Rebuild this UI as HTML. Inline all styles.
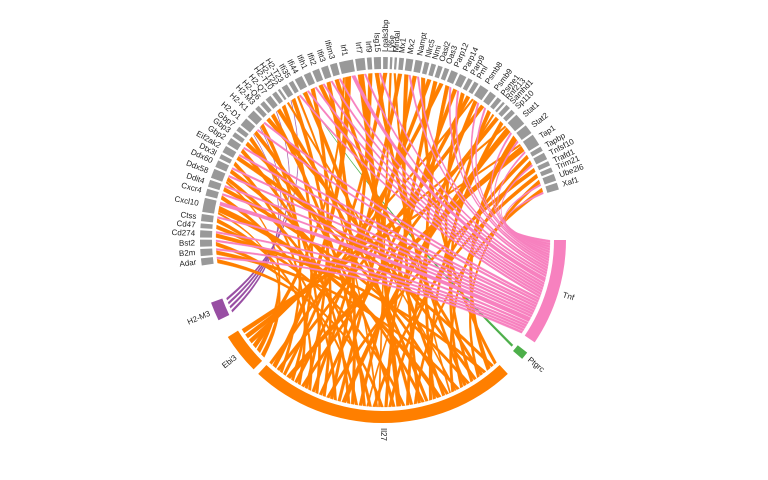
<!DOCTYPE html>
<html><head><meta charset="utf-8"><style>
html,body{margin:0;padding:0;background:#fff;width:768px;height:480px;overflow:hidden}
svg text{font-family:"Liberation Sans",sans-serif;font-size:8px;fill:#222}
</style></head><body>
<svg id="chart" width="768" height="480" viewBox="0 0 768 480"></svg>
<script>
const genes=["Adar","B2m","Bst2","Cd274","Cd47","Ctss","Cxcl10","Cxcr4","Ddit4","Ddx58","Ddx60","Dtx3l","Eif2ak2","Gbp2","Gbp3","Gbp7","H2-D1","H2-K1","H2-M3","H2-Q6","H2-Q7","H2-T10","H2-T22","H2-T23","Ifi35","Ifi44","Ifih1","Ifit2","Ifit3","Ifitm3","Irf1","Irf7","Irf9","Isg15","Lgals3bp","Ly6e","Mndal","Mx1","Mx2","Nampt","Nlrc5","Nmi","Oasl2","Oas3","Parp12","Parp14","Parp9","Pml","Psmb8","Psmb9","Psme1","Rnf213","Samhd1","Sp110","Stat1","Stat2","Tap1","Tapbp","Tnfsf10","Trafd1","Trim21","Ube2l6","Xaf1"];
const il27W=[2,2,2,2,2,2,3,2,2,2,2,2,2,2,2,2,2,2,2,2,2,2,1,2,1,2,2,2,2,2,3,3,2,2,2,1,1,2,2,2,2,2,2,2,2,2,2,2,2,2,2,1,2,2,3,3,3,2,2,2,2,2,2];
const tnfW=[1,1,1,1,0,1,2,1,1,1,1,0,1,1,0,0,1,1,0,0,0,0,0,0,1,1,1,1,1,1,2,1,0,1,0,0,0,0,1,1,0,0,0,0,1,1,0,0,1,1,0,0,0,0,1,1,1,0,1,0,0,1,1];
const il27Order=[40,12,55,3,27,61,18,46,8,33,50,1,22,58,36,14,29,6,44,53,20,10,38,62,25,48,4,31,16,57,42,0,35,24,60,9,51,19,45,2,28,13,54,39,7,32,59,23,47,15,37,5,26,52,11,41,21,56,34,17,49,30,43];
const ebi3Targets=["Cxcl10","Irf1","Stat1","Ddx58","Tap1","Psmb8"];
const h2m3Targets=["H2-D1","H2-K1","H2-Q7","H2-T23"];
const ptgrcTargets=["Ifi44"];
const sources=[["Tnf",0,34,"#F781BF"],["Ptgrc",38,40.5,"#4DAF4A"],["Il27",47,133,"#FF7F00"],["Ebi3",135,148,"#FF7F00"],["H2-M3",154,160,"#984EA3"]];

const svg=document.getElementById('chart');
const NS="http://www.w3.org/2000/svg";
const cx=383,cy=240,R=167,R1=171,R2=183;
function pt(a,r){const t=a*Math.PI/180;return [cx+r*Math.cos(t),cy+r*Math.sin(t)];}
function el(tag,attrs){const e=document.createElementNS(NS,tag);for(const k in attrs)e.setAttribute(k,attrs[k]);svg.appendChild(e);return e;}
function box(a1,a2,fill){const p1=pt(a1,R1),p2=pt(a2,R1),p3=pt(a2,R2),p4=pt(a1,R2);
 return el('path',{d:`M${p1}A${R1} ${R1} 0 0 1 ${p2}L${p3}A${R2} ${R2} 0 0 0 ${p4}Z`,fill:fill});}
function label(a,txt){const p=pt(a,R2+5);const right=Math.cos(a*Math.PI/180)>=-0.01;
 const t=el('text',{x:p[0],y:p[1],'text-anchor':right?'start':'end','dominant-baseline':'middle',transform:`rotate(${right?a:a+180} ${p[0]} ${p[1]})`});t.textContent=txt;return t;}

const ebiW=genes.map(g=>ebi3Targets.includes(g)?1:0);
const purW=genes.map(g=>h2m3Targets.includes(g)?0.6:0);
const grnW=genes.map(g=>ptgrcTargets.includes(g)?0.3:0);
const tot=genes.map((g,i)=>il27W[i]+tnfW[i]+ebiW[i]+purW[i]+grnW[i]);
const gStart=172,gEnd=344,gap=0.7;
const sumT=tot.reduce((a,b)=>a+b,0);
const unit=(gEnd-gStart-gap*(genes.length-1))/sumT;
const gA=[];let a=gStart;
genes.forEach((g,i)=>{gA.push([a,a+tot[i]*unit]);a+=tot[i]*unit+gap;});
const gCur=gA.map(x=>x[0]);

const srcCur={};const srcUnit={};
const srcTot={Tnf:tnfW.reduce((a,b)=>a+b,0),Ptgrc:0.3,Il27:il27W.reduce((a,b)=>a+b,0),Ebi3:ebiW.reduce((a,b)=>a+b,0),"H2-M3":purW.reduce((a,b)=>a+b,0)};
sources.forEach(s=>{srcCur[s[0]]=s[1];srcUnit[s[0]]=(s[2]-s[1])/srcTot[s[0]];});
function ctrl(pA,pB){const mx=(pA[0]+pB[0])/2-cx,my=(pA[1]+pB[1])/2-cy;return [cx+mx*0.5,cy+my*0.5];}
function ribbon(src,col,gi,w,name,fs,fg){
 if(!w)return;
 const s0=srcCur[src],s1=s0+w*srcUnit[src];srcCur[src]=s1;
 const t0=gCur[gi],t1=t0+w*unit;gCur[gi]=t1;
 const sm=(s1-s0)*(1-fs)/2,tm=(t1-t0)*(1-fg)/2;
 const a1=s0+sm,a2=s1-sm,b1=t0+tm,b2=t1-tm;
 const p1=pt(a1,R),p2=pt(a2,R),q1=pt(b1,R),q2=pt(b2,R);
 const c1=ctrl(p2,q1),c2=ctrl(q2,p1);
 const e=el('path',{d:`M${p1}A${R} ${R} 0 0 1 ${p2}Q${c1} ${q1}A${R} ${R} 0 0 1 ${q2}Q${c2} ${p1}Z`,fill:col,stroke:col,'stroke-width':0.3});
 
 
}
genes.forEach((g,i)=>{
 ribbon("Ebi3","#FF7F00",i,ebiW[i],'chord-ebi3-'+g.toLowerCase(),0.7,0.85);
 ribbon("H2-M3","#984EA3",i,purW[i],'chord-h2m3-'+g.toLowerCase(),0.5,0.3);
 ribbon("Ptgrc","#4DAF4A",i,grnW[i],'chord-ptgrc-'+g.toLowerCase(),0.3,0.3);
});
il27Order.forEach(i=>{ribbon("Il27","#FF7F00",i,il27W[i],'chord-il27-'+genes[i].toLowerCase(),0.75,0.9);});
for(let i=genes.length-1;i>=0;i--){ribbon("Tnf","#F781BF",i,tnfW[i],'chord-tnf-'+genes[i].toLowerCase(),0.85,0.85);}

sources.forEach(s=>{const b=box(s[1],s[2],s[3]);
 
 
 const t=label((s[1]+s[2])/2,s[0]);
 
 });
genes.forEach((g,i)=>{const b=box(gA[i][0],gA[i][1],'#999999');
 
 
 const t=label((gA[i][0]+gA[i][1])/2,g);
 
 });
</script>
</body></html>
